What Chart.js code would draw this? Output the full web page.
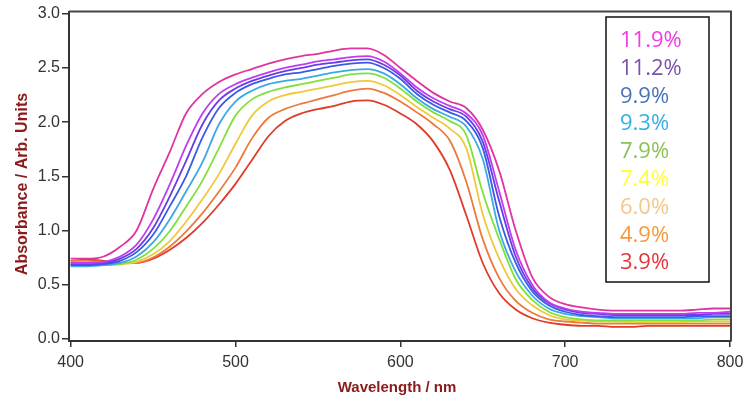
<!DOCTYPE html>
<html>
<head>
<meta charset="utf-8">
<script src="https://cdn.jsdelivr.net/npm/chart.js@4"></script>
<style>
  html, body { margin: 0; padding: 0; background: #fff; }
  #chart { display: block; }
</style>
</head>
<body>
<canvas id="chart" width="750" height="399"></canvas>
<script>
// wavelength in nm, one entry per reading
const wavelengths = [400, 410, 420, 430, 440, 450, 460, 470, 480, 490,
  500, 510, 520, 530, 540, 550, 560, 570, 580, 590,
  600, 610, 620, 630, 640, 650, 660, 670, 680, 690,
  700, 710, 720, 730, 740, 750, 760, 770, 780, 790, 800]

// absorbance per concentration
const abs119 = [0.74, 0.74, 0.76, 0.85, 1.00, 1.38, 1.72, 2.08, 2.26, 2.37,
  2.44, 2.49, 2.54, 2.58, 2.61, 2.63, 2.66, 2.68, 2.68, 2.62,
  2.50, 2.38, 2.27, 2.19, 2.13, 1.93, 1.55, 1.00, 0.57, 0.39,
  0.32, 0.29, 0.27, 0.26, 0.26, 0.26, 0.26, 0.26, 0.27, 0.28, 0.28]
const abs112 = [0.70, 0.70, 0.71, 0.76, 0.87, 1.10, 1.42, 1.78, 2.08, 2.26,
  2.35, 2.41, 2.46, 2.50, 2.53, 2.56, 2.58, 2.60, 2.61, 2.56,
  2.45, 2.32, 2.22, 2.15, 2.08, 1.88, 1.36, 0.82, 0.50, 0.34,
  0.28, 0.25, 0.24, 0.23, 0.23, 0.23, 0.23, 0.23, 0.24, 0.24, 0.25]
const abs99 = [0.69, 0.69, 0.70, 0.74, 0.83, 1.02, 1.31, 1.64, 1.98, 2.20,
  2.31, 2.38, 2.43, 2.47, 2.50, 2.53, 2.55, 2.57, 2.58, 2.53,
  2.43, 2.29, 2.19, 2.12, 2.05, 1.82, 1.27, 0.76, 0.47, 0.33,
  0.27, 0.24, 0.23, 0.22, 0.22, 0.22, 0.22, 0.22, 0.22, 0.23, 0.23]
const abs93 = [0.68, 0.68, 0.69, 0.72, 0.80, 0.96, 1.22, 1.50, 1.86, 2.13,
  2.27, 2.35, 2.40, 2.44, 2.46, 2.49, 2.52, 2.54, 2.55, 2.50,
  2.40, 2.26, 2.16, 2.09, 2.01, 1.76, 1.13, 0.70, 0.44, 0.31,
  0.25, 0.22, 0.21, 0.20, 0.20, 0.20, 0.20, 0.20, 0.21, 0.21, 0.21]
const abs79 = [0.67, 0.67, 0.68, 0.70, 0.76, 0.89, 1.10, 1.36, 1.63, 1.98,
  2.19, 2.29, 2.35, 2.38, 2.40, 2.43, 2.46, 2.48, 2.49, 2.45,
  2.35, 2.22, 2.12, 2.05, 1.96, 1.66, 1.00, 0.62, 0.40, 0.28,
  0.23, 0.21, 0.20, 0.19, 0.19, 0.19, 0.19, 0.19, 0.19, 0.20, 0.20]
const abs74 = [0.68, 0.68, 0.68, 0.69, 0.73, 0.83, 0.99, 1.22, 1.46, 1.76,
  2.06, 2.21, 2.28, 2.32, 2.35, 2.38, 2.41, 2.44, 2.45, 2.41,
  2.31, 2.19, 2.09, 2.01, 1.88, 1.35, 0.92, 0.55, 0.36, 0.25,
  0.20, 0.18, 0.17, 0.17, 0.17, 0.17, 0.17, 0.17, 0.17, 0.18, 0.18]
const abs60 = [0.69, 0.69, 0.69, 0.69, 0.71, 0.78, 0.90, 1.08, 1.29, 1.52,
  1.80, 2.06, 2.19, 2.25, 2.28, 2.31, 2.34, 2.37, 2.38, 2.34,
  2.25, 2.14, 2.04, 1.94, 1.76, 1.15, 0.74, 0.46, 0.31, 0.22,
  0.18, 0.17, 0.16, 0.16, 0.155, 0.155, 0.155, 0.155, 0.16, 0.16, 0.16]
const abs49 = [0.72, 0.72, 0.71, 0.70, 0.70, 0.75, 0.85, 0.99, 1.16, 1.36,
  1.58, 1.85, 2.04, 2.12, 2.17, 2.21, 2.25, 2.29, 2.31, 2.27,
  2.19, 2.09, 1.98, 1.83, 1.45, 0.92, 0.56, 0.35, 0.24, 0.18,
  0.16, 0.15, 0.14, 0.14, 0.14, 0.14, 0.14, 0.14, 0.14, 0.14, 0.14]
const abs39 = [0.72, 0.73, 0.72, 0.70, 0.70, 0.74, 0.82, 0.93, 1.07, 1.24,
  1.43, 1.65, 1.87, 2.01, 2.08, 2.12, 2.15, 2.19, 2.20, 2.16,
  2.08, 1.98, 1.82, 1.56, 1.14, 0.70, 0.42, 0.27, 0.19, 0.15,
  0.13, 0.12, 0.12, 0.11, 0.11, 0.12, 0.12, 0.12, 0.12, 0.12, 0.12]

const seriesLabels = ['11.9%', '11.2%', '9.9%', '9.3%', '7.9%', '7.4%', '6.0%', '4.9%', '3.9%']
const lineColors = ['#e0359f', '#c03cf0', '#6a3ce8', '#3c5ae6', '#3ca8e6', '#82e03c', '#f0c83c', '#ec7a3c', '#e03c2a']
const legendColors = ['#f23ce6', '#7b52ab', '#4a72b8', '#33b0e0', '#8cc152', '#ffff33', '#f5c88a', '#f39a3c', '#e8323c']
const xTicks = [400, 500, 600, 700, 800]
const yTicks = [0, 0.5, 1, 1.5, 2, 2.5, 3]

const allSeries = [abs119, abs112, abs99, abs93, abs79, abs74, abs60, abs49, abs39]

const datasets = allSeries.map((values, i) => ({
  label: seriesLabels[i],
  data: values.map((y, j) => ({ x: wavelengths[j], y })),
  borderColor: lineColors[i],
  borderWidth: 1.8,
  pointRadius: 0,
  cubicInterpolationMode: 'monotone',
  fill: false
}))

const tickFont = { family: '"Liberation Sans", Arial, sans-serif', size: 16 }

// frame, axis titles and the boxed legend inside the plot
const decorations = {
  id: 'decorations',
  afterDraw(chart) {
    const { ctx, chartArea: a } = chart
    ctx.save()
    ctx.strokeStyle = '#444'
    ctx.lineWidth = 2
    ctx.beginPath()
    ctx.moveTo(a.left, a.top)
    ctx.lineTo(a.right, a.top)
    ctx.lineTo(a.right, a.bottom)
    ctx.stroke()

    ctx.fillStyle = '#8b1a1a'
    ctx.textAlign = 'center'
    ctx.textBaseline = 'middle'
    ctx.font = 'bold 15px "Liberation Sans", Arial, sans-serif'
    ctx.fillText('Wavelength / nm', 397, 388)
    ctx.save()
    ctx.translate(23, 184)
    ctx.rotate(-Math.PI / 2)
    ctx.font = 'bold 16px "Liberation Sans", Arial, sans-serif'
    ctx.fillText('Absorbance / Arb. Units', 0, 0)
    ctx.restore()

    // legend box
    ctx.fillStyle = '#fff'
    ctx.fillRect(606, 17, 103, 265)
    ctx.strokeStyle = '#111'
    ctx.lineWidth = 1.5
    ctx.strokeRect(606, 17, 103, 265)
    ctx.font = '22px "Open Sans", "Noto Sans", sans-serif'
    ctx.textAlign = 'left'
    ctx.textBaseline = 'alphabetic'
    chart.data.datasets.forEach((ds, i) => {
      ctx.fillStyle = legendColors[i]
      ctx.fillText(ds.label, 620, 47 + i * 27.8)
    })
    ctx.restore()
  }
}

new Chart(document.getElementById('chart'), {
  type: 'line',
  data: { datasets },
  options: {
    responsive: false,
    animation: false,
    devicePixelRatio: 1,
    layout: { padding: { top: 7, right: 19, left: 0, bottom: 0 } },
    plugins: { legend: { display: false }, tooltip: { enabled: false } },
    scales: {
      x: {
        type: 'linear',
        min: 399,
        max: 800.6,
        afterBuildTicks(scale) { scale.ticks = xTicks.map(value => ({ value })) },
        afterFit(scale) { scale.height = 58 },
        grid: { drawOnChartArea: false, drawTicks: true, tickLength: 6, color: '#333', lineWidth: 1.5 },
        border: { display: true, color: '#333', width: 2 },
        ticks: { font: tickFont, color: '#333', padding: 6, maxRotation: 0, autoSkip: false }
      },
      y: {
        min: -0.02,
        max: 3.02,
        afterBuildTicks(scale) { scale.ticks = yTicks.map(value => ({ value })) },
        afterFit(scale) { scale.width = 69 },
        grid: { drawOnChartArea: false, drawTicks: true, tickLength: 7, color: '#333', lineWidth: 1.5 },
        border: { display: true, color: '#333', width: 2 },
        ticks: { font: tickFont, color: '#333', padding: 2, autoSkip: false, callback: v => v.toFixed(1) }
      }
    }
  },
  plugins: [decorations]
})
</script>
</body>
</html>
